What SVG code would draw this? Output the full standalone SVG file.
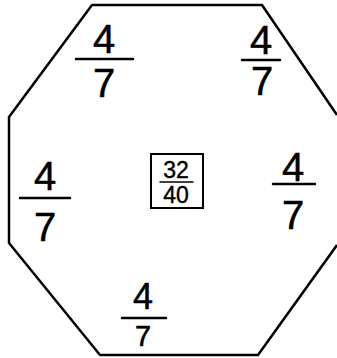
<svg xmlns="http://www.w3.org/2000/svg" width="337" height="358" viewBox="0 0 337 358">
<style>
.d{font-family:"Liberation Sans",Arial,sans-serif;font-size:40px;fill:#000;text-anchor:middle;stroke:#000;stroke-width:0.5}
.s{font-family:"Liberation Sans",Arial,sans-serif;font-size:23px;fill:#000;text-anchor:middle;stroke:#000;stroke-width:0.4}
.bar{stroke:#000;stroke-width:2.5;fill:none;stroke-linecap:round}
.edge{stroke:#000;stroke-width:2.5;fill:none;stroke-linejoin:round}
</style>
<rect width="337" height="358" fill="#fff"/>
<g id="connectors">
<polyline class="edge" points="337,115 262,5 92,5 9,117 9,243 100,355 258,355 337,245"/>
</g>
<g id="frac-top-left">
<text class="d" x="104" y="53">4</text>
<line class="bar" x1="76" y1="59" x2="133" y2="59"/>
<text class="d" x="104" y="97">7</text>
</g>
<g id="frac-top-right">
<text class="d" x="261" y="54">4</text>
<line class="bar" x1="242" y1="60" x2="280" y2="60"/>
<text class="d" x="262" y="95">7</text>
</g>
<g id="frac-left">
<text class="d" x="45" y="190">4</text>
<line class="bar" x1="20" y1="198" x2="70" y2="198"/>
<text class="d" x="45" y="241">7</text>
</g>
<g id="frac-right">
<text class="d" x="293" y="181">4</text>
<line class="bar" x1="273" y1="184" x2="315" y2="184"/>
<text class="d" x="293" y="229">7</text>
</g>
<g id="frac-bottom">
<text class="d" x="143" y="309" style="font-size:36px">4</text>
<line class="bar" x1="122" y1="318" x2="166" y2="318"/>
<text class="d" x="143" y="346" style="font-size:29px">7</text>
</g>
<g id="center">
<rect x="151" y="154" width="52" height="54" fill="none" stroke="#000" stroke-width="2"/>
<text class="s" x="176" y="178">32</text>
<line class="bar" x1="160" y1="182" x2="193" y2="182" style="stroke-width:1.5"/>
<text class="s" x="176" y="203">40</text>
</g>
</svg>
